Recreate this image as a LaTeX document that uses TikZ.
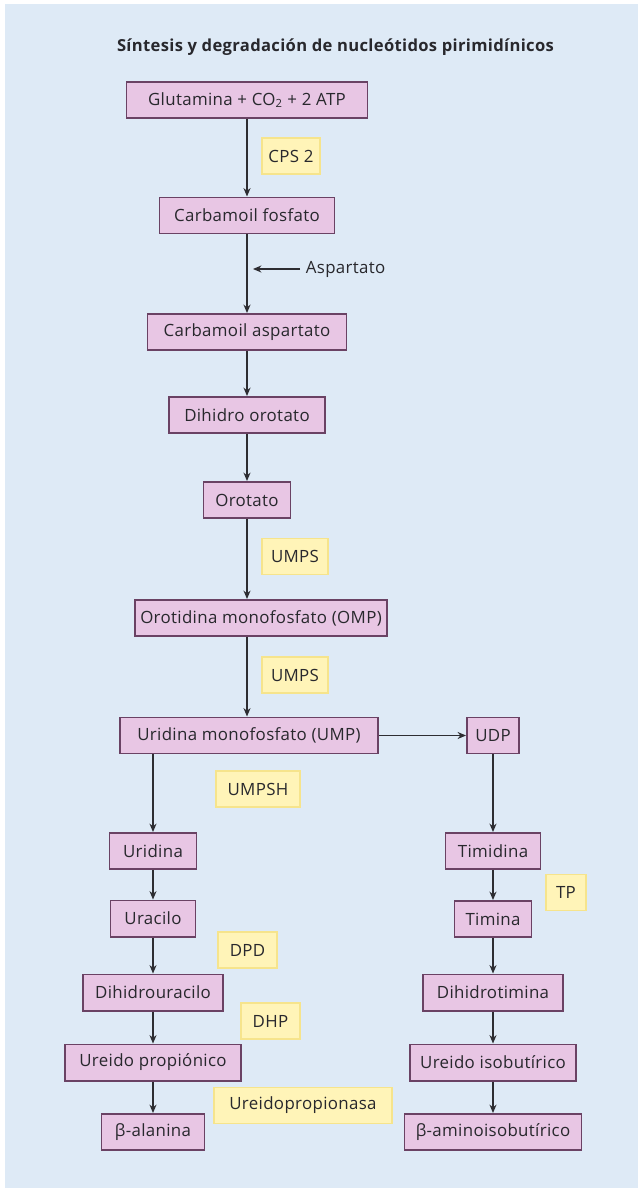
\documentclass[tikz,border=0pt]{standalone}
\usepackage{fontspec}
\setmainfont{Open Sans}[LetterSpace=2]
\usetikzlibrary{arrows.meta}
\definecolor{bgblue}{RGB}{222,234,246}
\definecolor{boxpink}{RGB}{232,198,228}
\definecolor{boxline}{RGB}{106,66,100}
\definecolor{labyellow}{RGB}{255,244,184}
\definecolor{labline}{RGB}{246,228,140}
\definecolor{txtgray}{RGB}{40,40,45}
\definecolor{arrgray}{RGB}{45,45,50}
\begin{document}
\begin{tikzpicture}[x=0.025cm,y=-0.025cm,
  every node/.style={font=\fontsize{12}{14}\selectfont,text=txtgray},
  box/.style={draw=boxline,fill=boxpink,line width=1.4pt,
    minimum width=#1*0.025cm,minimum height=0.9cm,inner sep=0pt},
  enz/.style={draw=labline,fill=labyellow,line width=1pt,
    minimum width=#1*0.025cm,minimum height=0.9cm,inner sep=0pt},
  arr/.style={-{Stealth[length=6pt,width=5pt]},line width=0.8pt,draw=arrgray}]
  \useasboundingbox (0,0) rectangle (638,1188);
  \fill[white] (0,0) rectangle (638,1188);
  \fill[bgblue] (5,4) rectangle (638,1188);

  \node[font=\fontsize{11.8}{13}\selectfont\bfseries] (title) at (335.5,47)
    {Síntesis y degradación de nucleótidos pirimidínicos};

  % Synthesis: main chain
  \node[box=241] (glut) at (247,100) {Glutamina + CO\textsubscript{2} + 2 ATP};
  \node[enz=58] (cps) at (291,156) {CPS 2};
  \node[box=175] (carbf) at (247,215.5) {Carbamoil fosfato};
  \node[anchor=west,inner sep=4pt] (asp) at (300,269) {Aspartato};
  \coordinate (aspend) at (253,269);
  \node[box=199] (carba) at (247,332) {Carbamoil aspartato};
  \node[box=156] (dihor) at (247,415) {Dihidro orotato};
  \node[box=87] (orot) at (247,500) {Orotato};
  \node[enz=66] (umps1) at (295,556.5) {UMPS};
  \node[box=252] (omp) at (261,618) {Orotidina monofosfato (OMP)};
  \node[enz=66] (umps2) at (295,675) {UMPS};
  \node[box=258] (ump) at (249,735.5) {Uridina monofosfato (UMP)};
  \node[box=52] (udp) at (493,735.5) {UDP};
  \node[enz=84] (umpsh) at (258,789) {UMPSH};

  \draw[arr] (glut) -- (carbf);
  \draw[arr] (asp.west) -- (aspend);
  \draw[arr] (carbf) -- (carba);
  \draw[arr] (carba) -- (dihor);
  \draw[arr] (dihor) -- (orot);
  \draw[arr] (orot.south) -- (orot.south |- omp.north);
  \draw[arr] (orot |- omp.south) -- (orot |- ump.north);
  \draw[arr] (ump.east) -- (udp.west);

  % Degradation: uracil branch
  \node[box=87] (urid) at (153,851) {Uridina};
  \node[box=85] (urac) at (153,918.5) {Uracilo};
  \node[enz=59] (dpd) at (247.5,950) {DPD};
  \node[box=140] (dihu) at (153,992.5) {Dihidrouracilo};
  \node[enz=59] (dhp) at (270.5,1021) {DHP};
  \node[box=176] (uprop) at (153,1062.5) {Ureido propiónico};
  \node[enz=178] (upasa) at (303,1105.5) {Ureidopropionasa};
  \node[box=103] (bala) at (153,1132) {β-alanina};

  \draw[arr] (ump.south -| urid) -- (urid.north);
  \foreach \a/\b in {urid/urac,urac/dihu,dihu/uprop,uprop/bala}
    \draw[arr] (\a) -- (\b);

  % Degradation: thymine branch
  \node[box=95] (timd) at (493,851) {Timidina};
  \node[enz=40] (tp) at (566,892.5) {TP};
  \node[box=77] (timi) at (493,919) {Timina};
  \node[box=140] (diht) at (493,992.5) {Dihidrotimina};
  \node[box=166] (uiso) at (493,1062.5) {Ureido isobutírico};
  \node[box=177] (baib) at (493,1132) {β-aminoisobutírico};

  \foreach \a/\b in {udp/timd,timd/timi,timi/diht,diht/uiso,uiso/baib}
    \draw[arr] (\a) -- (\b);
\end{tikzpicture}
\end{document}
